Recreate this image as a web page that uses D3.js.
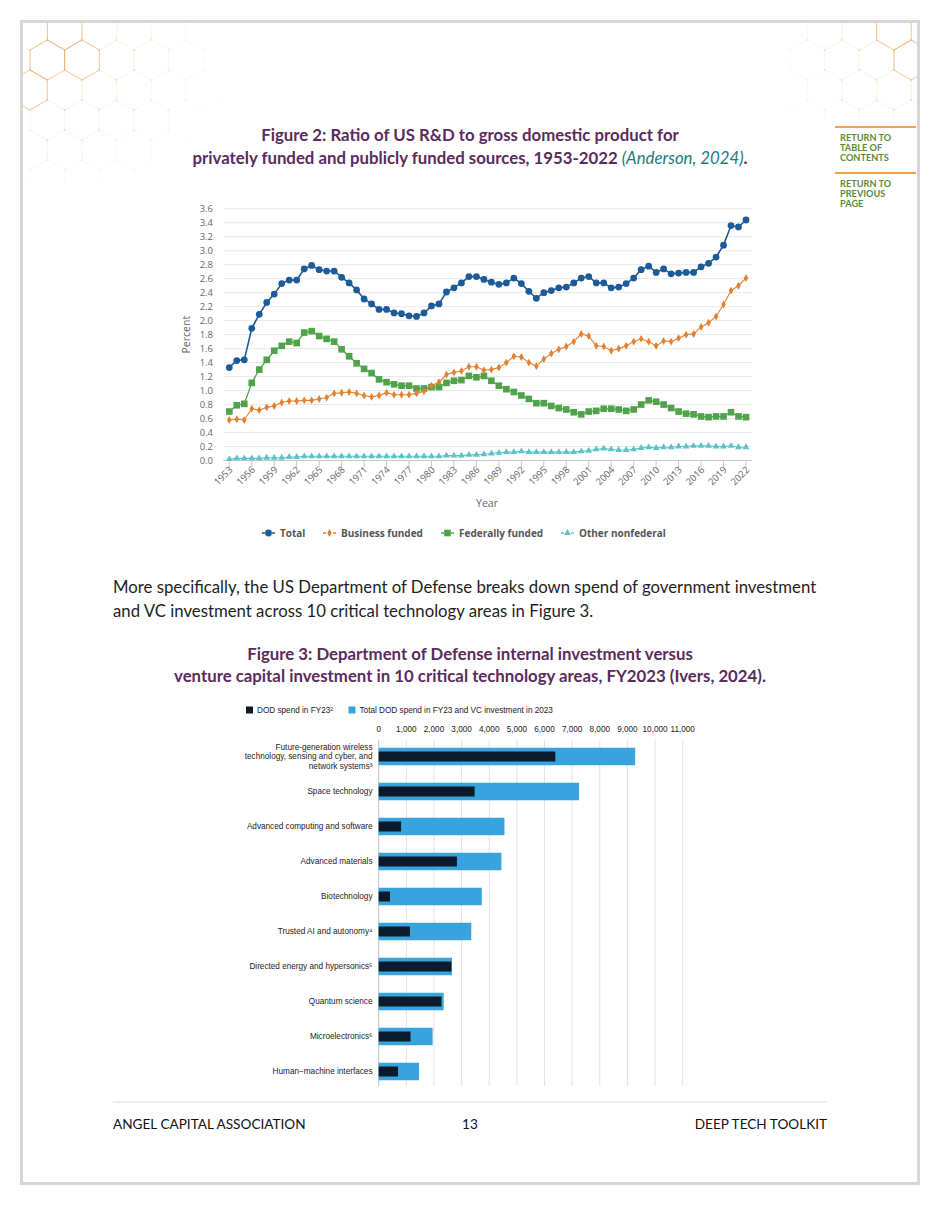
<!DOCTYPE html>
<html lang="en">
<head>
<meta charset="UTF-8">
<title>Deep Tech Toolkit - page 13</title>
<style>
  body { margin: 0; background: #ffffff; }
  svg { display: block; }
  .fig-title { font-family: Lato, "Noto Sans", sans-serif; font-weight: 700; font-size: 16.8px; fill: #5a2b5c; text-anchor: middle; }
  .cite { font-family: Lato, "Noto Sans", sans-serif; font-style: italic; font-weight: 400; fill: #1d7a78; }
  .body-text { font-family: Lato, "Noto Sans", sans-serif; font-size: 16.75px; fill: #1e1e1e; }
  .side-link { font-family: Lato, sans-serif; font-weight: 700; font-size: 9.2px; fill: #5a8d36; }
  .footer { font-family: Lato, sans-serif; font-size: 13.6px; fill: #111; }
  .lc-tick { font-family: "Open Sans", sans-serif; font-size: 9.5px; fill: #666; }
  .lc-label { font-family: "Open Sans", sans-serif; font-size: 10.5px; fill: #666; }
  .lc-legend { font-family: "Open Sans", sans-serif; font-size: 10px; font-weight: 700; fill: #555; }
  .bc-text { font-family: "Liberation Sans", Arial, sans-serif; font-size: 8.2px; fill: #222; }
</style>
</head>
<body>
<svg id="page" width="940" height="1205"></svg>

<script src="https://d3js.org/d3.v7.min.js"></script>
<script>
// ---------- Figure 2 data (percent of GDP) ----------
const years = d3.range(1953, 2023);
const yTicks = [0, 0.2, 0.4, 0.6, 0.8, 1.0, 1.2, 1.4, 1.6, 1.8, 2.0, 2.2, 2.4, 2.6, 2.8, 3.0, 3.2, 3.4, 3.6];
const xTickYears = d3.range(1953, 2023, 3);

const totalRD = [
  1.33, 1.43, 1.44, 1.89, 2.09, 2.26, 2.38, 2.53, 2.58, 2.58,
  2.74, 2.79, 2.73, 2.71, 2.71, 2.62, 2.54, 2.44, 2.31, 2.24,
  2.16, 2.16, 2.11, 2.10, 2.07, 2.06, 2.11, 2.21, 2.24, 2.41,
  2.47, 2.54, 2.63, 2.63, 2.59, 2.55, 2.52, 2.54, 2.61, 2.53,
  2.42, 2.32, 2.40, 2.43, 2.47, 2.48, 2.54, 2.61, 2.63, 2.54,
  2.54, 2.47, 2.48, 2.53, 2.61, 2.73, 2.78, 2.69, 2.74, 2.67,
  2.68, 2.69, 2.69, 2.77, 2.82, 2.91, 3.08, 3.36, 3.34, 3.44
];
const businessFunded = [
  0.58, 0.59, 0.58, 0.74, 0.72, 0.76, 0.78, 0.83, 0.85, 0.85,
  0.86, 0.86, 0.88, 0.90, 0.96, 0.97, 0.98, 0.96, 0.93, 0.91,
  0.93, 0.97, 0.94, 0.94, 0.94, 0.96, 0.99, 1.07, 1.12, 1.23,
  1.26, 1.28, 1.34, 1.34, 1.29, 1.30, 1.33, 1.40, 1.49, 1.48,
  1.40, 1.35, 1.45, 1.53, 1.59, 1.63, 1.70, 1.81, 1.78, 1.64,
  1.63, 1.57, 1.60, 1.64, 1.70, 1.74, 1.70, 1.64, 1.71, 1.70,
  1.75, 1.80, 1.81, 1.91, 1.97, 2.06, 2.23, 2.43, 2.50, 2.61
];
const federallyFunded = [
  0.70, 0.79, 0.81, 1.11, 1.30, 1.44, 1.57, 1.64, 1.70, 1.68,
  1.83, 1.85, 1.78, 1.74, 1.70, 1.59, 1.49, 1.39, 1.31, 1.25,
  1.16, 1.12, 1.09, 1.07, 1.07, 1.03, 1.03, 1.05, 1.05, 1.11,
  1.14, 1.15, 1.21, 1.19, 1.21, 1.14, 1.07, 1.02, 0.98, 0.93,
  0.88, 0.82, 0.82, 0.78, 0.75, 0.73, 0.69, 0.66, 0.70, 0.71,
  0.74, 0.74, 0.73, 0.71, 0.73, 0.80, 0.86, 0.84, 0.80, 0.75,
  0.70, 0.67, 0.66, 0.63, 0.62, 0.63, 0.63, 0.69, 0.63, 0.62
];
const otherNonfederal = [
  0.02, 0.03, 0.03, 0.03, 0.03, 0.04, 0.04, 0.04, 0.05, 0.05,
  0.06, 0.06, 0.06, 0.06, 0.06, 0.06, 0.06, 0.06, 0.06, 0.06,
  0.06, 0.06, 0.06, 0.06, 0.06, 0.06, 0.06, 0.06, 0.06, 0.07,
  0.07, 0.07, 0.08, 0.08, 0.09, 0.10, 0.11, 0.12, 0.12, 0.13,
  0.12, 0.12, 0.12, 0.12, 0.12, 0.12, 0.12, 0.13, 0.14, 0.16,
  0.17, 0.16, 0.15, 0.15, 0.16, 0.18, 0.19, 0.18, 0.19, 0.19,
  0.20, 0.20, 0.21, 0.21, 0.21, 0.20, 0.20, 0.21, 0.19, 0.19
];

const seriesNames = ["Total", "Business funded", "Federally funded", "Other nonfederal"];

// ---------- Figure 3 data ($ millions) ----------
const techAreas = [
  "Future-generation wireless technology, sensing and cyber, and network systems\u00b3",
  "Space technology",
  "Advanced computing and software",
  "Advanced materials",
  "Biotechnology",
  "Trusted AI and autonomy\u2074",
  "Directed energy and hypersonics\u2075",
  "Quantum science",
  "Microelectronics\u2076",
  "Human\u2212machine interfaces"
];
const dodSpend = [6390, 3470, 810, 2830, 410, 1130, 2630, 2270, 1150, 700];
const dodPlusVC = [9280, 7250, 4550, 4440, 3730, 3350, 2650, 2350, 1950, 1460];
const barTicks = [0, 1000, 2000, 3000, 4000, 5000, 6000, 7000, 8000, 9000, 10000, 11000];
const barLegend = ["DOD spend in FY23\u00b2", "Total DOD spend in FY23 and VC investment in 2023"];

const svg = d3.select("#page");

// ---------- page frame & decoration ----------
svg.append("rect")
  .attr("x", 21.5).attr("y", 21.5).attr("width", 897).attr("height", 1162)
  .attr("fill", "none").attr("stroke", "#d6d6d6").attr("stroke-width", 3);

function hexField(cx0, cy0, cols, rows, R, fx, fy, fade, hot) {
  const w = Math.sqrt(3) * R;
  const g = svg.append("g");
  for (let r = 0; r < rows; r++) {
    for (let c = 0; c < cols; c++) {
      const cx = cx0 + c * w + (r % 2) * w / 2;
      const cy = cy0 + r * 1.5 * R;
      const d = Math.hypot(cx - fx, cy - fy);
      const op = Math.max(0, 1 - d / fade);
      if (op <= 0.02) continue;
      const pts = d3.range(6).map(k => {
        const a = (Math.PI / 180) * (60 * k - 90);
        return [cx + R * Math.cos(a), cy + R * Math.sin(a)];
      });
      const isHot = hot.some(h => h[0] === r && h[1] === c);
      g.append("path")
        .attr("d", d3.line()(pts) + "Z")
        .attr("fill", "none")
        .attr("stroke", isHot ? "#ebaa5c" : "#f3dcbc")
        .attr("stroke-width", isHot ? 0.8 : 0.6)
        .attr("opacity", isHot ? 0.85 : op * 0.55);
      pts.forEach(p => g.append("circle").attr("cx", p[0]).attr("cy", p[1]).attr("r", 0.8)
        .attr("fill", "#eaa24f").attr("opacity", op * 0.35));
    }
  }
  return g;
}
const clipTL = svg.append("clipPath").attr("id", "clipTL");
clipTL.append("rect").attr("x", 23).attr("y", 23).attr("width", 200).attr("height", 160);
hexField(30, 30, 6, 7, 20, 50, 40, 190, [[0, 1], [1, 0], [1, 1], [2, 0]]).attr("clip-path", "url(#clipTL)");
const clipTR = svg.append("clipPath").attr("id", "clipTR");
clipTR.append("rect").attr("x", 775).attr("y", 23).attr("width", 142).attr("height", 100);
hexField(790, 30, 5, 5, 20, 900, 35, 150, [[0, 3], [1, 3]]).attr("clip-path", "url(#clipTR)");

// side links
[[127, ["RETURN TO", "TABLE OF", "CONTENTS"]], [173, ["RETURN TO", "PREVIOUS", "PAGE"]]].forEach(([y, lines]) => {
  svg.append("line").attr("x1", 835).attr("x2", 916).attr("y1", y).attr("y2", y)
    .attr("stroke", "#f0a448").attr("stroke-width", 2);
  lines.forEach((t, i) => svg.append("text").attr("class", "side-link")
    .attr("x", 840).attr("y", y + 14 + i * 10).text(t));
});

// ---------- Figure 2 title ----------
svg.append("text").attr("class", "fig-title").attr("x", 470).attr("y", 141)
  .text("Figure 2: Ratio of US R&D to gross domestic product for");
const t2 = svg.append("text").attr("class", "fig-title").attr("x", 470).attr("y", 164);
t2.append("tspan").text("privately funded and publicly funded sources, 1953-2022 ");
t2.append("tspan").attr("class", "cite").text("(Anderson, 2024)");
t2.append("tspan").text(".");

// ---------- Figure 2 line chart ----------
const x = d3.scaleLinear().domain([1953, 2022]).range([229.3, 746]);
const y = d3.scaleLinear().domain([0, 3.6]).range([460.5, 208.8]);

const lc = svg.append("g");
lc.append("g").selectAll("line").data(yTicks).join("line")
  .attr("x1", 223).attr("x2", 752)
  .attr("y1", d => y(d)).attr("y2", d => y(d))
  .attr("stroke", d => d === 0 ? "#c8c8c8" : "#e8e8e8").attr("stroke-width", 1);
lc.append("g").selectAll("text").data(yTicks).join("text")
  .attr("class", "lc-tick").attr("x", 213).attr("y", d => y(d)).attr("dy", "0.35em")
  .attr("text-anchor", "end").text(d => d3.format(".1f")(d));
lc.append("g").selectAll("line").data(xTickYears).join("line")
  .attr("x1", d => x(d)).attr("x2", d => x(d)).attr("y1", y(0)).attr("y2", y(0) + 7)
  .attr("stroke", "#c8c8c8");
lc.append("g").selectAll("text").data(xTickYears).join("text")
  .attr("class", "lc-tick").attr("text-anchor", "end")
  .attr("transform", d => `translate(${x(d) + 4},${y(0) + 10}) rotate(-45)`)
  .text(d => d);
lc.append("text").attr("class", "lc-label").attr("x", 487).attr("y", 507)
  .attr("text-anchor", "middle").text("Year");
lc.append("text").attr("class", "lc-label").attr("text-anchor", "middle")
  .attr("transform", `translate(190,${(y(0) + y(3.6)) / 2}) rotate(-90)`).text("Percent");

const series = [
  { name: seriesNames[0], values: totalRD, color: "#1d5b98", sym: d3.symbolCircle, size: 36, width: 1.6 },
  { name: seriesNames[1], values: businessFunded, color: "#e2812f", sym: d3.symbolDiamond, size: 18, width: 1.1 },
  { name: seriesNames[2], values: federallyFunded, color: "#4fa44a", sym: d3.symbolSquare, size: 44, width: 1.3 },
  { name: seriesNames[3], values: otherNonfederal, color: "#5cc3c8", sym: d3.symbolTriangle, size: 20, width: 1.1 }
];
const line = d3.line().x((d, i) => x(years[i])).y(d => y(d));
series.slice().reverse().forEach(s => {
  const g = lc.append("g");
  g.append("path").datum(s.values).attr("d", line)
    .attr("fill", "none").attr("stroke", s.color).attr("stroke-width", s.width);
  g.selectAll("path.pt").data(s.values).join("path").attr("class", "pt")
    .attr("transform", (d, i) => `translate(${x(years[i])},${y(d)})`)
    .attr("d", d3.symbol().type(s.sym).size(s.size)).attr("fill", s.color);
});

// legend
const legX = [262, 323, 441, 561];
series.forEach((s, i) => {
  const g = lc.append("g").attr("transform", `translate(${legX[i]},533)`);
  g.append("line").attr("x1", 0).attr("x2", 13).attr("stroke", s.color).attr("stroke-width", 1.5)
    .attr("stroke-dasharray", "3,2");
  g.append("path").attr("transform", "translate(6.5,0)")
    .attr("d", d3.symbol().type(s.sym).size(s.size)).attr("fill", s.color);
  g.append("text").attr("class", "lc-legend").attr("x", 18).attr("dy", "0.35em").text(s.name);
});

// ---------- body text ----------
svg.append("text").attr("class", "body-text").attr("x", 113).attr("y", 593)
  .text("More specifically, the US Department of Defense breaks down spend of government investment");
svg.append("text").attr("class", "body-text").attr("x", 113).attr("y", 617)
  .text("and VC investment across 10 critical technology areas in Figure 3.");

// ---------- Figure 3 title ----------
svg.append("text").attr("class", "fig-title").attr("x", 470).attr("y", 660)
  .text("Figure 3: Department of Defense internal investment versus");
svg.append("text").attr("class", "fig-title").attr("x", 470).attr("y", 682)
  .text("venture capital investment in 10 critical technology areas, FY2023 (Ivers, 2024).");

// ---------- Figure 3 bar chart ----------
const bx = d3.scaleLinear().domain([0, 11000]).range([378.7, 682.7]);
const by = d3.scaleBand().domain(techAreas).range([739, 1089]).paddingInner(0.5).paddingOuter(0.25);
const dark = "#0b1b2b", light = "#38a3dc";

const bc = svg.append("g");
bc.append("g").selectAll("line").data(barTicks).join("line")
  .attr("x1", d => bx(d)).attr("x2", d => bx(d)).attr("y1", 740).attr("y2", 1086)
  .attr("stroke", d => d === 0 ? "#bfbfbf" : "#e3e3e3").attr("stroke-width", 1);
bc.append("g").selectAll("text").data(barTicks).join("text")
  .attr("class", "bc-text").attr("x", d => bx(d)).attr("y", 732).attr("text-anchor", "middle")
  .text(d => d3.format(",")(d));

bc.append("g").selectAll("rect").data(techAreas).join("rect")
  .attr("x", bx(0)).attr("y", d => by(d))
  .attr("width", (d, i) => bx(dodPlusVC[i]) - bx(0)).attr("height", by.bandwidth())
  .attr("fill", light);
bc.append("g").selectAll("rect").data(techAreas).join("rect")
  .attr("x", bx(0)).attr("y", d => by(d) + by.bandwidth() / 2 - 5)
  .attr("width", (d, i) => bx(dodSpend[i]) - bx(0)).attr("height", 10)
  .attr("fill", dark);

const wrapFirst = ["Future-generation wireless", "technology, sensing and cyber, and", "network systems\u00b3"];
bc.append("g").selectAll("text").data(techAreas).join("text")
  .attr("class", "bc-text").attr("text-anchor", "end")
  .attr("x", 372.5).attr("y", d => by(d) + by.bandwidth() / 2).attr("dy", "0.35em")
  .each(function (d, i) {
    const t = d3.select(this);
    if (i === 0) {
      wrapFirst.forEach((w, k) => t.append("tspan").attr("x", 372.5)
        .attr("dy", k === 0 ? "-0.85em" : "1.17em").text(w));
    } else {
      t.text(d);
    }
  });

// legend
[[246, dark, barLegend[0]], [348.5, light, barLegend[1]]].forEach(([lx, c, label]) => {
  bc.append("rect").attr("x", lx).attr("y", 706.5).attr("width", 7).attr("height", 7).attr("fill", c);
  bc.append("text").attr("class", "bc-text").attr("x", lx + 11).attr("y", 712.8).text(label);
});

// ---------- footer ----------
svg.append("line").attr("x1", 113).attr("x2", 827).attr("y1", 1102).attr("y2", 1102)
  .attr("stroke", "#dcdcdc").attr("stroke-width", 1);
svg.append("text").attr("class", "footer").attr("x", 113).attr("y", 1129).text("ANGEL CAPITAL ASSOCIATION");
svg.append("text").attr("class", "footer").attr("x", 470).attr("y", 1129).attr("text-anchor", "middle").text("13");
svg.append("text").attr("class", "footer").attr("x", 827).attr("y", 1129).attr("text-anchor", "end").text("DEEP TECH TOOLKIT");
</script>
</body>
</html>
